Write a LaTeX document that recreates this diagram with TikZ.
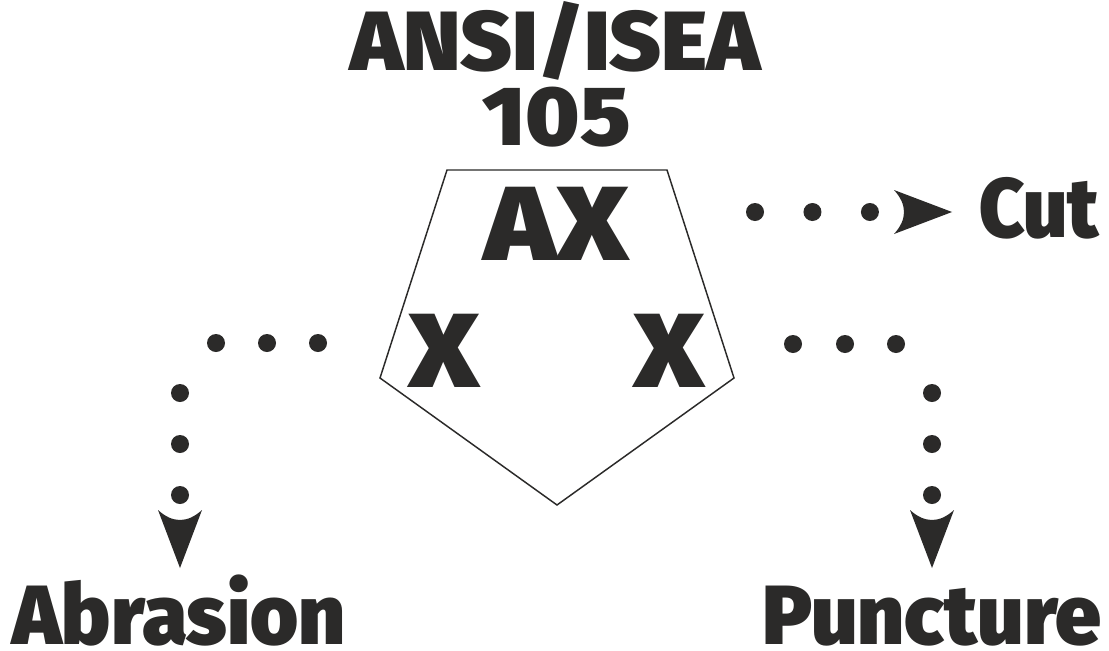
\documentclass[tikz,border=0pt]{standalone}
\usepackage{fontspec}
\IfFontExistsTF{Fira Sans Black}{\newfontfamily\hv{Fira Sans Black}}{%
 \IfFontExistsTF{Fira Sans Heavy}{\newfontfamily\hv{Fira Sans Heavy}}{%
  \IfFontExistsTF{Fira Sans ExtraBold}{\newfontfamily\hv{Fira Sans ExtraBold}}{%
   \newfontfamily\hvbase{Fira Sans}\newcommand\hv{\hvbase\bfseries}}}}
\usetikzlibrary{arrows.meta}
\definecolor{ink}{HTML}{2B2A29}
\newcommand\wide[2]{\scalebox{#1}[1]{#2}}
\pgfdeclarearrow{
  name = CurvBack,
  parameters = {\the\pgfarrowlength,\the\pgfarrowwidth,\the\pgfarrowinset},
  setup code = {
    \pgfarrowssettipend{0pt}
    \pgfarrowssetlineend{-\pgfarrowlength}
    \pgfarrowssetbackend{-\pgfarrowlength}
    \pgfarrowssavethe\pgfarrowlength
    \pgfarrowssavethe\pgfarrowwidth
    \pgfarrowssavethe\pgfarrowinset
  },
  drawing code = {
    \pgfpathmoveto{\pgfpoint{0pt}{0pt}}
    \pgfpathlineto{\pgfpoint{-\pgfarrowlength}{0.5\pgfarrowwidth}}
    \pgfpathquadraticcurveto{\pgfpoint{-\pgfarrowlength+2\pgfarrowinset}{0pt}}{\pgfpoint{-\pgfarrowlength}{-0.5\pgfarrowwidth}}
    \pgfpathclose
    \pgfusepathqfill
  },
  defaults = {length=43.5pt 0 0, width=33pt 0 0, inset=7.5pt 0}
}
\begin{document}
\begin{tikzpicture}[x=0.75pt,y=-0.75pt,
  lbl/.style={inner sep=0pt, outer sep=0pt, text=ink, anchor=base,
    font=\hv\fontsize{63pt}{63pt}\selectfont},
  big/.style={lbl, font=\hv\fontsize{79pt}{79pt}\selectfont},
  tipx/.style={-{CurvBack[length=43.5pt 0 0, width=33pt 0 0, inset=7.5pt 0]}},
  dotlink/.style={draw=ink, line width=13.5pt, line cap=round, tipx},
  pent/.style={draw=ink, line width=1.1pt, line join=miter}]
\fill[white] (0,0) rectangle (1109,650);
\useasboundingbox (0,0) rectangle (1109,650);

% pentagon
\coordinate (p1) at (447,170);
\coordinate (p2) at (667,170);
\coordinate (p3) at (734,378);
\coordinate (p4) at (557,505);
\coordinate (p5) at (380,378);
\draw[pent] (p1) -- (p2) -- (p3) -- (p4) -- (p5) -- cycle;

% texts
\node[lbl] (t1) at (555.5,70) {\wide{1.05}{ANSI/ISEA}};
\node[lbl] (t2) at (556.5,145) {\wide{1.08}{105}};
\node[big] (ax) at (556.5,260) {\wide{1.14}{AX}};
\node[big] (xl) at (444,387) {\wide{1.12}{X}};
\node[big] (xr) at (669,387) {\wide{1.12}{X}};
\node[lbl, anchor=base west] (cut) at (979,237) {\wide{0.93}{Cut}};
\node[lbl] (abr) at (179,644) {\wide{0.98}{Abrasion}};
\node[lbl] (pun) at (932,644) {\wide{0.98}{Puncture}};

% connector end points
\coordinate (cs) at (755,212);
\coordinate (ce) at (952,212);
\coordinate (ls) at (318,343);
\coordinate (lc) at (180,343);
\coordinate (le) at (180,568);
\coordinate (rs) at (793,344);
\coordinate (rc) at (932,344);
\coordinate (re) at (932,568);

% connectors
\draw[dotlink, dash pattern=on 0pt off 43.1pt on 0pt off 43.1pt on 0pt off 200pt] (cs) -- (ce);
\draw[dotlink, dash pattern=on 0pt off 38.25pt on 0pt off 38.25pt on 0pt off 64.5pt on 0pt off 38.25pt on 0pt off 38.25pt on 0pt off 200pt] (ls) -- (lc) -- (le);
\draw[dotlink, dash pattern=on 0pt off 39pt on 0pt off 38.25pt on 0pt off 63.75pt on 0pt off 38.25pt on 0pt off 38.25pt on 0pt off 200pt] (rs) -- (rc) -- (re);
\end{tikzpicture}
\end{document}
